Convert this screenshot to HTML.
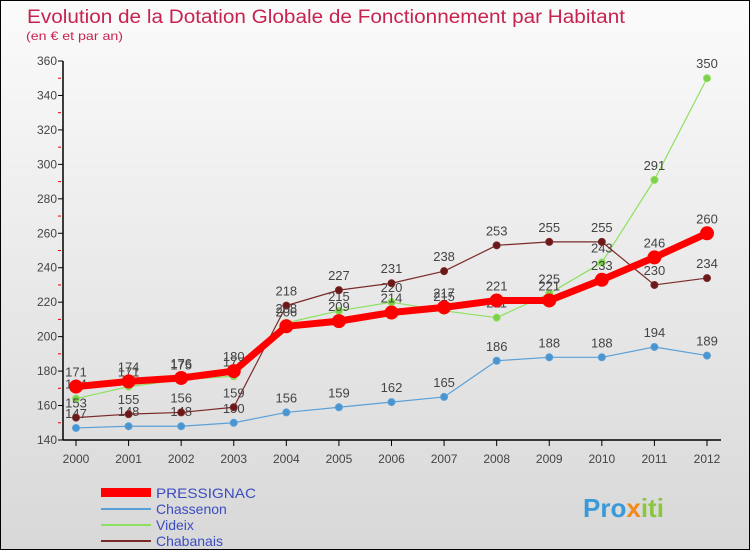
<!DOCTYPE html>
<html><head><meta charset="utf-8">
<style>
body{margin:0;width:750px;height:550px;overflow:hidden;font-family:"Liberation Sans",sans-serif}
#wrap{position:relative;width:748px;height:548px;border:1px solid #000;background:linear-gradient(#fbfbfb,#d8d8d8)}
</style></head><body>
<div id="wrap">
<svg id="svg" width="748" height="548" xmlns="http://www.w3.org/2000/svg">
<text x="26" y="22" font-size="19" fill="#c8234f" textLength="598" lengthAdjust="spacingAndGlyphs">Evolution de la Dotation Globale de Fonctionnement par Habitant</text>
<text x="25" y="39" font-size="12" fill="#c8234f" textLength="97" lengthAdjust="spacingAndGlyphs">(en € et par an)</text>
<g id="axes"></g><g id="series"></g>
<g>
<rect x="100" y="487" width="50" height="9" fill="#ff0000"/>
<text x="155" y="497" font-size="14" fill="#3b4cc0" textLength="100" lengthAdjust="spacingAndGlyphs">PRESSIGNAC</text>
<line x1="100" y1="508" x2="150" y2="508" stroke="#5aa0d8" stroke-width="2"/>
<text x="155" y="513" font-size="14" fill="#3b4cc0">Chassenon</text>
<line x1="100" y1="524" x2="150" y2="524" stroke="#8ee060" stroke-width="2"/>
<text x="155" y="529" font-size="14" fill="#3b4cc0">Videix</text>
<line x1="100" y1="540" x2="150" y2="540" stroke="#7a2a2a" stroke-width="2"/>
<text x="155" y="545" font-size="14" fill="#3b4cc0">Chabanais</text>
</g>
<text x="582" y="516" font-size="26" font-weight="bold" fill="#3a9ad9">Pro<tspan fill="#f08a1c">x</tspan><tspan fill="#8bc63e">iti</tspan></text>
</svg>
</div>
<script>
const years=[2000,2001,2002,2003,2004,2005,2006,2007,2008,2009,2010,2011,2012];
const pressignac=[171,174,176,180,206,209,214,217,221,221,233,246,260];
const chassenon=[147,148,148,150,156,159,162,165,186,188,188,194,189];
const videix=[164,171,175,177,208,215,220,215,211,225,243,291,350];
const chabanais=[153,155,156,159,218,227,231,238,253,255,255,230,234];
const yTicks=[140,160,180,200,220,240,260,280,300,320,340,360];
const NS="http://www.w3.org/2000/svg";
const X=i=>75+i*(706-75)/(years.length-1);
const Y=v=>439-(v-140)*(379/220);
function mk(t,a,p){const e=document.createElementNS(NS,t);for(const k in a)e.setAttribute(k,a[k]);p.appendChild(e);return e;}
const ax=document.getElementById('axes'),sr=document.getElementById('series');
let yl=mk('line',{x1:62,y1:Y(360),x2:62,y2:439,stroke:'#000','stroke-width':1.5},ax);


let xl=mk('line',{x1:62,y1:439,x2:720,y2:439,stroke:'#000','stroke-width':1.5},ax);


yTicks.forEach(v=>{
 mk('line',{x1:57,y1:Y(v),x2:62,y2:Y(v),stroke:'#000'},ax);
 if(v<360)mk('line',{x1:57,y1:Y(v+10),x2:60,y2:Y(v+10),stroke:'#e00'},ax);
 const t=mk('text',{x:56,y:Y(v)+4,'font-size':12,'text-anchor':'end',fill:'#444'},ax);t.textContent=v;
 
 
});
years.forEach((y,i)=>{
 mk('line',{x1:X(i),y1:439,x2:X(i),y2:445,stroke:'#000'},ax);
 const t=mk('text',{x:X(i),y:462,'font-size':12,'text-anchor':'middle',fill:'#444'},ax);t.textContent=y;
 
 
});
function series(d,name,col,w,r,dot){
 const g=mk('g',{},sr);
 
 
 mk('polyline',{points:d.map((v,i)=>X(i)+','+Y(v)).join(' '),fill:'none',stroke:col,'stroke-width':w,'stroke-linejoin':'round'},g);
 d.forEach((v,i)=>{
  const c=mk('circle',{cx:X(i),cy:Y(v),r:r,fill:dot,stroke:col,'stroke-width':1},g);
  
  
  const t=mk('text',{x:X(i),y:Y(v)-10,'font-size':13,'text-anchor':'middle',fill:'#444'},g);t.textContent=v;
 });
}
series(chassenon,'chassenon','#5aa0d8',1.2,3.5,'#4a94d0');
series(videix,'videix','#8ee060',1.2,3.5,'#7ed04a');
series(chabanais,'chabanais','#7a2a2a',1.2,3.5,'#6a1818');
series(pressignac,'pressignac','#ff0000',7,6.5,'#ff0000');
</script>
</body></html>
